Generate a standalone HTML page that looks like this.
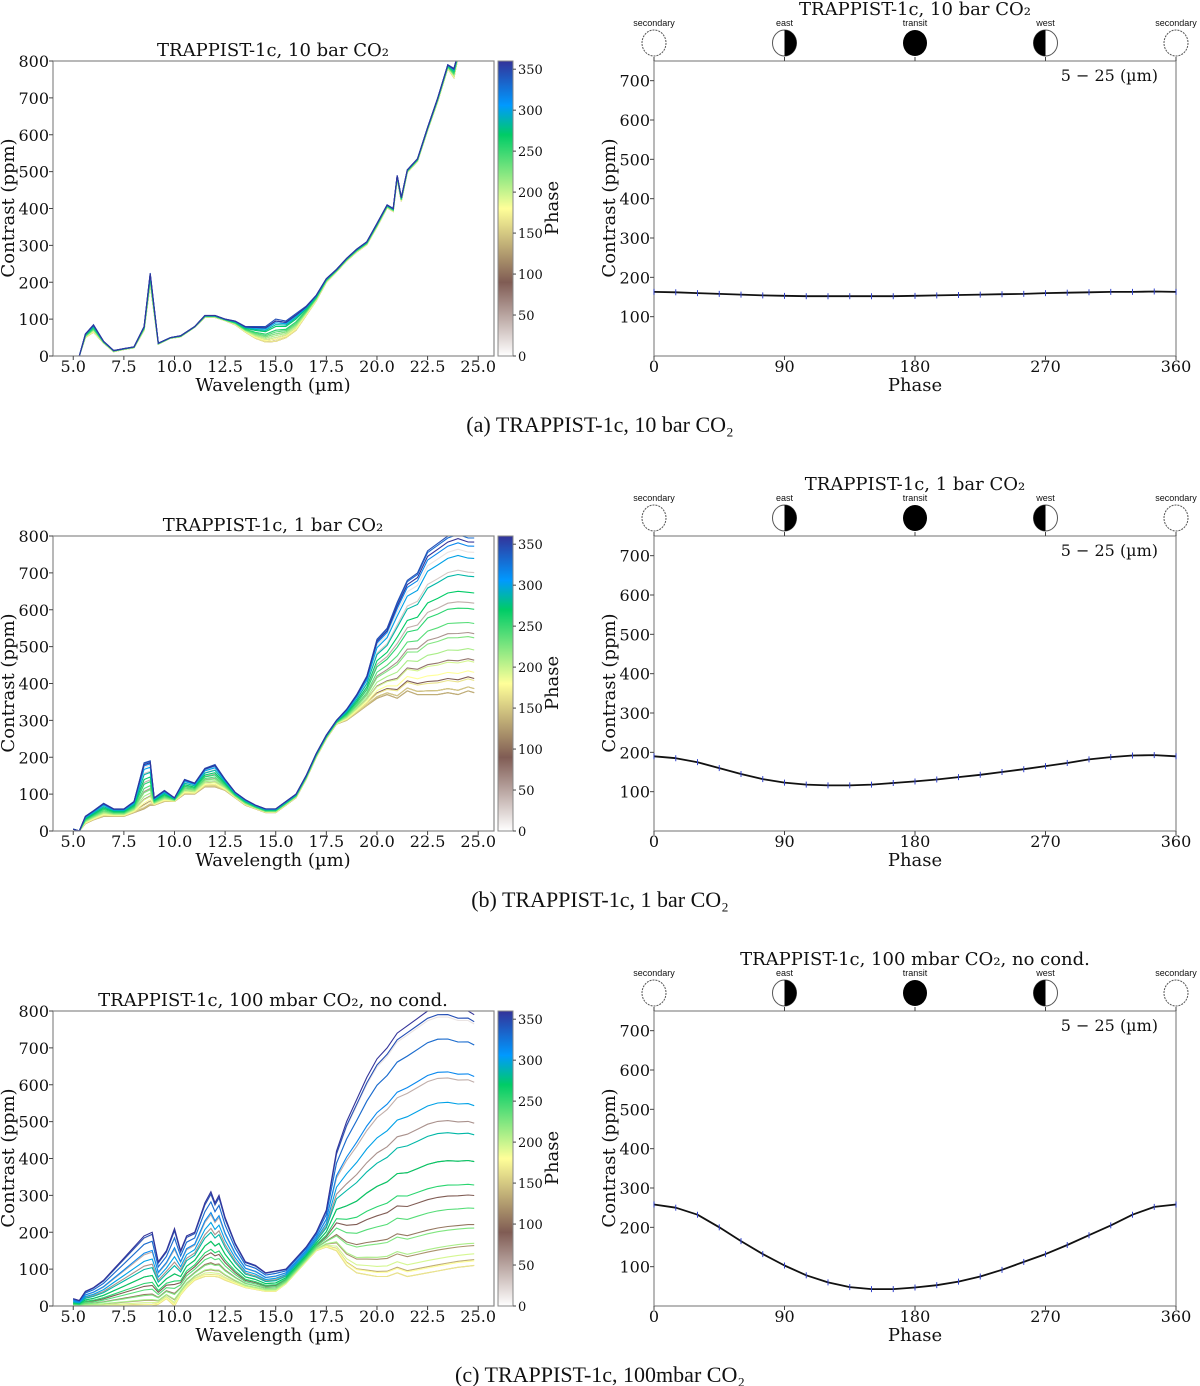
<!DOCTYPE html>
<html><head><meta charset="utf-8"><style>
html,body{margin:0;padding:0;background:#fff;}
svg{display:block;}
.tk{font-family:"DejaVu Serif","Liberation Serif",serif;font-size:16px;fill:#111;}
.lb{font-family:"DejaVu Serif","Liberation Serif",serif;font-size:18px;fill:#111;}
.cap{font-family:"Liberation Serif",serif;font-size:22px;fill:#111;}
.ic{font-family:"Liberation Sans",sans-serif;font-size:9px;fill:#111;}
</style></head><body>
<svg id="fig" width="1200" height="1386" viewBox="0 0 1200 1386" xmlns="http://www.w3.org/2000/svg">
<defs>
<linearGradient id="cmap" x1="0" y1="0" x2="0" y2="1">
<stop offset="0" stop-color="#333399"/><stop offset="0.15" stop-color="#0099ff"/><stop offset="0.25" stop-color="#00cc66"/><stop offset="0.5" stop-color="#ffff99"/><stop offset="0.75" stop-color="#805c54"/><stop offset="1" stop-color="#ffffff"/>
</linearGradient>
<clipPath id="clipA"><rect x="53" y="61" width="441" height="295"/></clipPath>
<clipPath id="clipB"><rect x="53" y="536" width="441" height="295"/></clipPath>
<clipPath id="clipC"><rect x="53" y="1011" width="441" height="295"/></clipPath>
</defs>
</svg>
<script>
// ---------- data ----------
const phases = [0,15,30,45,60,75,90,105,120,135,150,165,180,195,210,225,240,255,270,285,300,315,330,345,360];
const curveA = [163,162,160,158,156,154,153,152,152,152,152,152,153,154,155,156,157,158,160,161,162,163,163,164,163];
const curveB = [190,185,175,160,145,132,123,118,116,116,118,122,126,131,137,143,150,157,165,173,182,188,192,193,190];
const curveC = [258,250,232,200,165,132,103,78,60,48,43,43,47,53,62,75,92,112,132,155,180,205,232,252,258];

const wlA = [5.0,5.3,5.6,6.0,6.5,7.0,7.5,8.0,8.5,8.8,9.2,9.8,10.3,11.0,11.5,12.0,12.5,13.0,13.5,14.0,14.5,15.0,15.5,16.0,16.5,17.0,17.5,18.0,18.5,19.0,19.5,20.0,20.5,20.8,21.0,21.2,21.5,22.0,22.5,23.0,23.5,23.8,24.0,24.5];
const hiA = [0,0,60,85,40,15,20,25,80,225,35,50,55,80,110,110,100,95,80,80,80,100,95,115,135,165,210,235,265,290,310,360,410,400,490,430,505,535,620,700,790,780,820,900];
const loA = [0,0,50,65,35,12,18,22,70,195,32,48,52,78,105,105,96,85,65,48,38,40,50,70,110,150,200,228,258,282,302,350,402,392,480,420,498,528,612,690,780,755,810,890];

const wlB = [5.0,5.3,5.6,6.0,6.5,7.0,7.5,8.0,8.5,8.8,9.0,9.5,10.0,10.5,11.0,11.5,12.0,12.5,13.0,13.5,14.0,14.5,15.0,15.5,16.0,16.5,17.0,17.5,18.0,18.5,19.0,19.5,20.0,20.5,21.0,21.5,22.0,22.5,23.0,23.5,24.0,24.5,24.8];
const hiB = [5,0,40,55,75,60,60,80,185,190,90,110,90,140,130,170,180,140,105,85,70,60,60,80,100,150,210,260,300,330,370,420,520,550,620,680,700,760,780,800,810,800,800];
const loB = [5,0,20,30,40,40,40,50,60,70,70,80,80,100,100,120,120,110,90,70,60,50,50,70,90,140,200,250,290,300,320,340,360,370,360,380,370,370,370,375,370,380,375];

const wlC = [5.0,5.3,5.6,6.0,6.5,7.0,7.5,8.0,8.5,8.9,9.2,9.6,10.0,10.3,10.6,11.0,11.5,11.8,12.0,12.2,12.5,13.0,13.5,14.0,14.5,15.0,15.5,16.0,16.5,17.0,17.5,18.0,18.5,19.0,19.5,20.0,20.5,21.0,21.5,22.0,22.5,23.0,23.5,24.0,24.5,24.8];
const hiC = [20,15,40,50,70,100,130,160,190,200,120,150,210,150,190,200,280,310,280,300,240,170,120,110,90,95,100,130,160,200,260,420,500,560,620,670,700,740,760,780,800,810,810,800,800,790];
const loC = [0,0,0,0,0,0,0,0,0,0,5,20,0,30,50,70,80,80,80,78,70,60,50,45,40,40,60,90,120,150,160,150,110,90,85,80,80,90,80,85,90,95,100,105,108,110];

const yTicksL = [0,100,200,300,400,500,600,700,800];
const xTicksL = [5.0,7.5,10.0,12.5,15.0,17.5,20.0,22.5,25.0];
const cbTicks = [0,50,100,150,200,250,300,350];
const yTicksR = [100,200,300,400,500,600,700];
const xTicksR = [0,90,180,270,360];
const iconPhases = [0,90,180,270,360];
const iconLabels = ["secondary","east","transit","west","secondary"];

// ---------- helpers ----------
const NS = "http://www.w3.org/2000/svg";
const svg = document.getElementById('fig');
function mk(tag, attrs, parent){ const e=document.createElementNS(NS,tag); for(const k in attrs) e.setAttribute(k,attrs[k]); (parent||svg).appendChild(e); return e; }
function txt(s, attrs, parent){ const e=mk('text',attrs,parent); e.textContent=s; return e; }
function lerp(a,b,t){return a+(b-a)*t;}
const stops=[[0,[51,51,153]],[0.15,[0,153,255]],[0.25,[0,204,102]],[0.5,[255,255,153]],[0.75,[128,92,84]],[1,[255,255,255]]];
function cmap(p){ const t=1-p/360; for(let i=1;i<stops.length;i++){ if(t<=stops[i][0]){ const a=stops[i-1],b=stops[i]; const u=(t-a[0])/(b[0]-a[0]); return 'rgb('+a[1].map((v,j)=>Math.round(lerp(v,b[1][j],u))).join(',')+')'; } } return 'rgb(255,255,255)'; }

function panel(idx, oy, leftTitle, rightTitle, wl, hi, lo, curve, clipId){
  const g = mk('g',{});  
  const L={x0:53,x1:494,y0:61+oy,y1:356+oy}, xmin=4.0, xmax=25.78, ymax=800;
  const sx=v=>L.x0+(v-xmin)/(xmax-xmin)*(L.x1-L.x0), sy=v=>L.y1-v/ymax*(L.y1-L.y0);
  const lg=mk('g',{},g);  
  const lt=txt(leftTitle,{x:273,y:56+oy,'text-anchor':'middle',class:'lb'},lg);  
  const cmin=Math.min(...curve), cmax=Math.max(...curve);
  const lines=mk('g',{'clip-path':'url(#'+clipId+')'},lg);  
  phases.forEach((p,i)=>{
    const f=(curve[i]-cmin)/(cmax-cmin||1);
    const pts=wl.map((w,j)=>sx(w).toFixed(1)+','+sy(lo[j]+(hi[j]-lo[j])*f).toFixed(1)).join(' ');
    const pl=mk('polyline',{points:pts,fill:'none',stroke:cmap(p),'stroke-width':1.1},lines);
    
    
  });
  const fr=mk('rect',{x:L.x0,y:L.y0,width:L.x1-L.x0,height:L.y1-L.y0,fill:'none',stroke:'#888','stroke-width':1.2},lg);  
  yTicksL.forEach(v=>{ mk('line',{x1:L.x0-4,x2:L.x0,y1:sy(v),y2:sy(v),stroke:'#444'},lg);
    const t=txt(String(v),{x:L.x0-4,y:sy(v)+6,'text-anchor':'end',class:'tk'},lg);   });
  xTicksL.forEach(v=>{ mk('line',{x1:sx(v),x2:sx(v),y1:L.y1,y2:L.y1+4,stroke:'#444'},lg);
    const t=txt(v.toFixed(1),{x:sx(v),y:L.y1+16,'text-anchor':'middle',class:'tk'},lg);   });
  const xl=txt('Wavelength (µm)',{x:273,y:L.y1+35,'text-anchor':'middle',class:'lb'},lg);  
  const yl=txt('Contrast (ppm)',{x:0,y:0,'text-anchor':'middle',class:'lb',transform:'translate(14,'+(208+oy)+') rotate(-90)'},lg);  
  const cb=mk('rect',{x:498,y:L.y0,width:15,height:L.y1-L.y0,fill:'url(#cmap)',stroke:'#888','stroke-width':1},lg);  
  cbTicks.forEach(v=>{ const yy=L.y1-v/360*(L.y1-L.y0); mk('line',{x1:513,x2:516,y1:yy,y2:yy,stroke:'#444'},lg);
    const t=txt(String(v),{x:518,y:yy+5,class:'tk'},lg); t.style.fontSize='13px';   });
  const cl=txt('Phase',{x:0,y:0,'text-anchor':'middle',class:'lb',transform:'translate(558,'+(208+oy)+') rotate(-90)'},lg);  

  const R={x0:654,x1:1176,y0:61+oy,y1:356+oy}, rymax=750;
  const px=v=>R.x0+v/360*(R.x1-R.x0), py=v=>R.y1-v/rymax*(R.y1-R.y0);
  const rg=mk('g',{},g);  
  const rt=txt(rightTitle,{x:915,y:15+oy,'text-anchor':'middle',class:'lb'},rg);  
  iconPhases.forEach((p,i)=>{
    const cx=px(p), cy=43+oy, r=13;
    const ig=mk('g',{},rg);  
    txt(iconLabels[i],{x:cx,y:cy-17,'text-anchor':'middle',class:'ic'},ig);
    if(i===2){ mk('ellipse',{cx:cx,cy:cy,rx:r-1,ry:r,fill:'#000'},ig); }
    else{
      mk('ellipse',{cx:cx,cy:cy,rx:r-1,ry:r,fill:'#fff',stroke:'#555','stroke-width':1,'stroke-dasharray':i===0||i===4?'2,1':'none'},ig);
      if(i===1) mk('path',{d:`M${cx},${cy-r} A${r-1},${r} 0 0 1 ${cx},${cy+r} Z`,fill:'#000'},ig);
      if(i===3) mk('path',{d:`M${cx},${cy-r} A${r-1},${r} 0 0 0 ${cx},${cy+r} Z`,fill:'#000'},ig);
    }
  });
  const rf=mk('rect',{x:R.x0,y:R.y0,width:R.x1-R.x0,height:R.y1-R.y0,fill:'none',stroke:'#888','stroke-width':1.2},rg);  
  const band=txt('5 − 25 (µm)',{x:1158,y:81+oy,'text-anchor':'end',class:'tk'},rg);  
  yTicksR.forEach(v=>{ mk('line',{x1:R.x0-4,x2:R.x0,y1:py(v),y2:py(v),stroke:'#444'},rg);
    const t=txt(String(v),{x:R.x0-4,y:py(v)+6,'text-anchor':'end',class:'tk'},rg);   });
  xTicksR.forEach(v=>{ mk('line',{x1:px(v),x2:px(v),y1:R.y1,y2:R.y1+4,stroke:'#444'},rg); mk('line',{x1:px(v),x2:px(v),y1:R.y0-4,y2:R.y0,stroke:'#444'},rg);
    const t=txt(String(v),{x:px(v),y:R.y1+16,'text-anchor':'middle',class:'tk'},rg);   });
  const pxl=txt('Phase',{x:915,y:R.y1+35,'text-anchor':'middle',class:'lb'},rg);  
  const pyl=txt('Contrast (ppm)',{x:0,y:0,'text-anchor':'middle',class:'lb',transform:'translate(615,'+(208+oy)+') rotate(-90)'},rg);  
  const cpts=phases.map((p,i)=>px(p).toFixed(1)+','+py(curve[i]).toFixed(1)).join(' ');
  const cl2=mk('polyline',{points:cpts,fill:'none',stroke:'#111','stroke-width':1.8,'stroke-linejoin':'round'},rg);
   
  phases.forEach((p,i)=>{ const m=mk('line',{x1:px(p),x2:px(p),y1:py(curve[i])-3,y2:py(curve[i])+3,stroke:'#3344cc','stroke-width':1},rg);
      });
}

panel('a',0,'TRAPPIST-1c, 10 bar CO₂','TRAPPIST-1c, 10 bar CO₂',wlA,hiA,loA,curveA,'clipA');
panel('b',475,'TRAPPIST-1c, 1 bar CO₂','TRAPPIST-1c, 1 bar CO₂',wlB,hiB,loB,curveB,'clipB');
panel('c',950,'TRAPPIST-1c, 100 mbar CO₂, no cond.','TRAPPIST-1c, 100 mbar CO₂, no cond.',wlC,hiC,loC,curveC,'clipC');

const caps=[['(a) TRAPPIST-1c, 10 bar CO₂',432],['(b) TRAPPIST-1c, 1 bar CO₂',907],['(c) TRAPPIST-1c, 100mbar CO₂',1382]];
caps.forEach((c,i)=>{ const t=txt(c[0],{x:600,y:c[1],'text-anchor':'middle',class:'cap'});   });
</script>
</body></html>
